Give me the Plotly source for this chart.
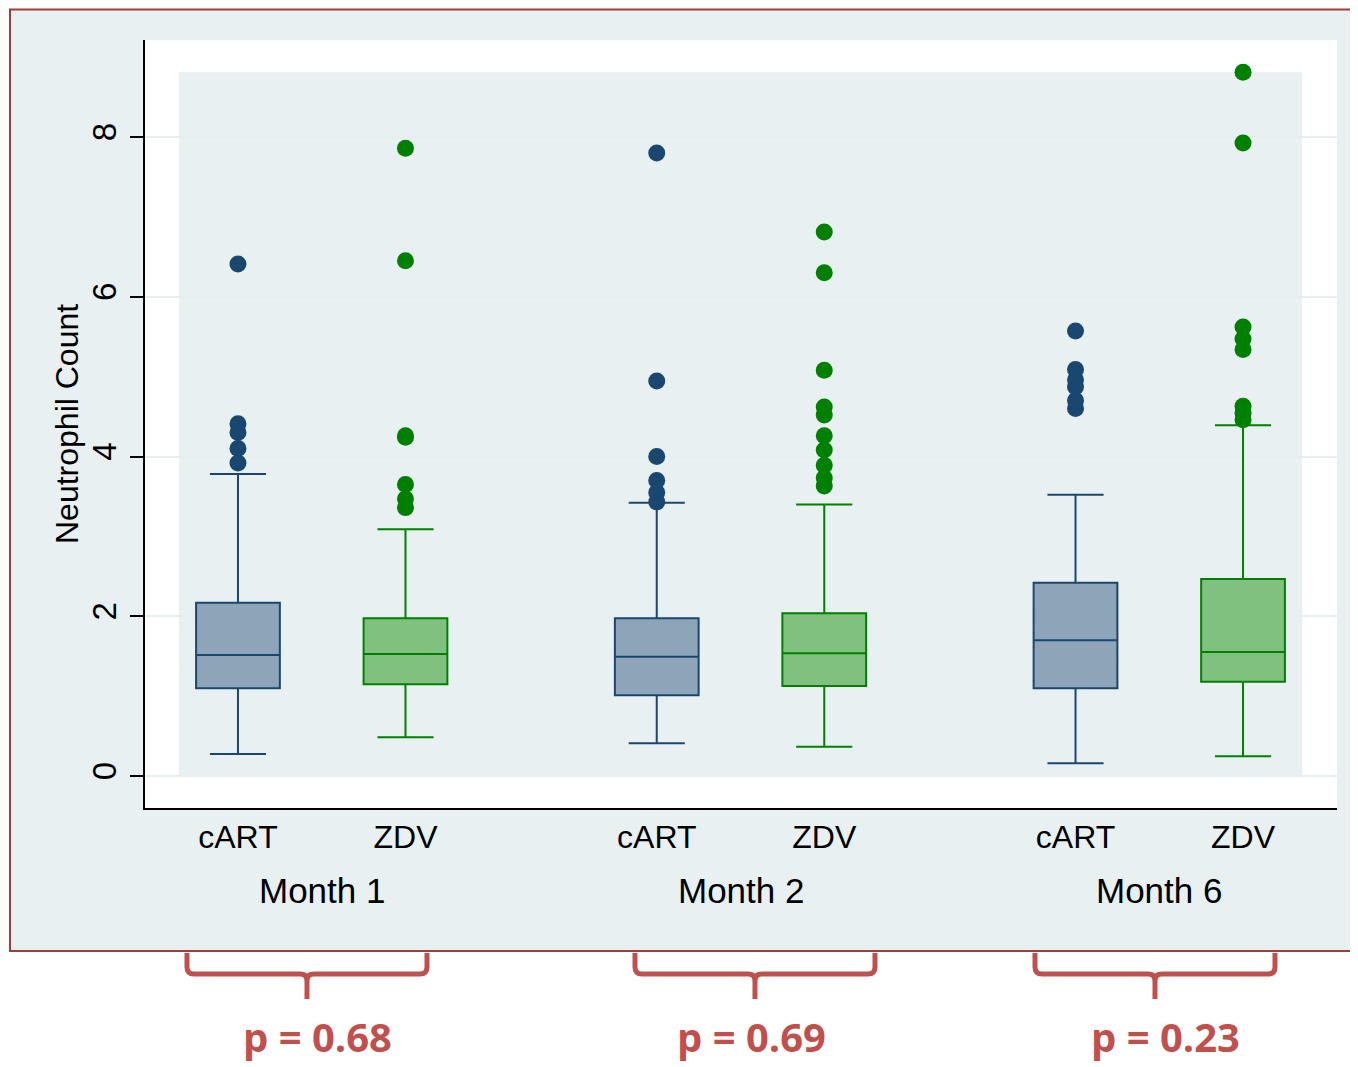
import plotly.graph_objects as go

# ---------------- data ----------------
groups = ["Month 1", "Month 2", "Month 6"]
treatments = ["cART", "ZDV"]
p_values = ["p = 0.68", "p = 0.69", "p = 0.23"]

cart_q1 = [1.10, 1.01, 1.10]
cart_median = [1.515, 1.494, 1.70]
cart_q3 = [2.17, 1.975, 2.42]
cart_low = [0.275, 0.41, 0.16]
cart_high = [3.78, 3.42, 3.52]

zdv_q1 = [1.148, 1.127, 1.18]
zdv_median = [1.527, 1.536, 1.552]
zdv_q3 = [1.975, 2.037, 2.466]
zdv_low = [0.484, 0.367, 0.246]
zdv_high = [3.09, 3.40, 4.39]

cart_outliers = [
    [3.92, 4.10, 4.30, 4.41, 6.41],
    [3.43, 3.55, 3.70, 4.00, 4.945, 7.80],
    [4.60, 4.70, 4.87, 4.96, 5.09, 5.57],
]
zdv_outliers = [
    [3.36, 3.47, 3.65, 4.24, 4.26, 6.45, 7.86],
    [3.63, 3.73, 3.89, 4.08, 4.26, 4.52, 4.62, 5.08, 6.30, 6.81],
    [4.46, 4.54, 4.63, 5.34, 5.47, 5.62, 7.925, 8.81],
]

# ---------------- layout constants ----------------
OFF = 8  # page body margin
W, H = 1358 - OFF, 1067 - OFF
ML, MT = 145 - OFF, 40 - OFF
MR = W - (1337 - OFF)
MB = H - (808 - OFF)
PW, PH = W - ML - MR, H - MT - MB
GROUP_STEP = 2.5
FONT = "Liberation Sans, Arial, sans-serif"

NAVY = "#1a476f"
NAVY_FILL = "#8ea4b9"
GREEN = "#008000"
GREEN_FILL = "#80c180"
FRAME_BG = "#e8f0f2"
FRAME_LINE = "#a33b3b"
RED = "#c0504d"


def pxx(px):
    return (px - OFF - ML) / PW


def pxy(py):
    return (H - MB - (py - OFF)) / PH


group_pos = [g * GROUP_STEP for g in range(len(groups))]
cart_x = [p + 0 for p in group_pos]
zdv_x = [p + 1 for p in group_pos]

fig = go.Figure()

for xs, q1, med, q3, lo, hi, line_c, fill_c, name in [
    (cart_x, cart_q1, cart_median, cart_q3, cart_low, cart_high, NAVY, NAVY_FILL, "cART"),
    (zdv_x, zdv_q1, zdv_median, zdv_q3, zdv_low, zdv_high, GREEN, GREEN_FILL, "ZDV"),
]:
    fig.add_trace(go.Box(
        x=xs, q1=q1, median=med, q3=q3, lowerfence=lo, upperfence=hi,
        width=0.5, whiskerwidth=0.67, boxpoints=False,
        line=dict(color=line_c, width=2), fillcolor=fill_c,
        name=name, showlegend=False, hoverinfo="skip",
    ))

for xs, outs, col in [(cart_x, cart_outliers, NAVY), (zdv_x, zdv_outliers, GREEN)]:
    ox, oy = [], []
    for x, vals in zip(xs, outs):
        ox += [x] * len(vals)
        oy += vals
    fig.add_trace(go.Scatter(
        x=ox, y=oy, mode="markers",
        marker=dict(color=col, size=17, line=dict(width=0)),
        showlegend=False, hoverinfo="skip",
    ))

shapes = []
# outer frame
shapes.append(dict(type="rect", xref="paper", yref="paper",
                   x0=pxx(10), x1=pxx(1358 + 20), y0=pxy(951), y1=pxy(9.5),
                   fillcolor=FRAME_BG, line=dict(color=FRAME_LINE, width=2), layer="below"))
# white plot region
shapes.append(dict(type="rect", xref="paper", yref="paper",
                   x0=0, x1=1, y0=0, y1=1,
                   fillcolor="white", line=dict(width=0), layer="below"))
# inner plot region
all_max = max(max(v) for v in cart_outliers + zdv_outliers)
shapes.append(dict(type="rect", xref="x", yref="y",
                   x0=-0.352, x1=zdv_x[-1] + 0.352, y0=0, y1=all_max,
                   fillcolor=FRAME_BG, line=dict(width=0), layer="below"))

# braces + p labels
brace_centers = [307, 755, 1155]
half = 120
yt, yh, yb = 953, 974, 999
r = 7
annotations = []
for c in brace_centers:
    l, rr = c - half, c + half
    pts = lambda px, py: f"{pxx(px):.6f},{pxy(py):.6f}"
    path = (f"M {pts(l, yt)} L {pts(l, yh - r)} Q {pts(l, yh)} {pts(l + r, yh)} "
            f"L {pts(c - r, yh)} Q {pts(c, yh)} {pts(c, yh + r)} L {pts(c, yb)} "
            f"M {pts(c, yh + r)} Q {pts(c, yh)} {pts(c + r, yh)} "
            f"L {pts(rr - r, yh)} Q {pts(rr, yh)} {pts(rr, yh - r)} L {pts(rr, yt)}")
    shapes.append(dict(type="path", xref="paper", yref="paper", path=path,
                       line=dict(color=RED, width=5), layer="above"))
p_x = [317, 751, 1165]
for px, ptxt in zip(p_x, p_values):
    annotations.append(dict(text=ptxt, xref="paper", yref="paper",
                            x=pxx(px), y=pxy(1036), xanchor="center", yanchor="middle",
                            showarrow=False, borderpad=0,
                            font=dict(family="Open Sans, sans-serif", size=40, color=RED, weight="bold")))

# month labels
for g, gp in zip(groups, group_pos):
    annotations.append(dict(text=g, xref="x", yref="paper", x=gp + 0.5, y=pxy(890),
                            xanchor="center", yanchor="middle", showarrow=False,
                            font=dict(family=FONT, size=35, color="black")))
# y title
annotations.append(dict(text="Neutrophil Count", xref="paper", yref="paper",
                        x=pxx(67), y=0.5, xanchor="center", yanchor="middle",
                        textangle=-90, showarrow=False,
                        font=dict(family=FONT, size=32, color="black")))

fig.update_layout(
    width=W, height=H,
    margin=dict(l=ML, r=MR, t=MT, b=MB, pad=0),
    paper_bgcolor="white", plot_bgcolor="white",
    shapes=shapes, annotations=annotations,
    showlegend=False, boxmode="overlay",
)
fig.update_xaxes(
    range=[-0.555, 6.561], tickvals=cart_x + zdv_x, ticktext=[treatments[0]] * 3 + [treatments[1]] * 3,
    showline=True, linecolor="black", linewidth=2, ticks="", showgrid=False, zeroline=False,
    tickfont=dict(family=FONT, size=32, color="black"), ticklabelstandoff=0,
)
fig.update_yaxes(
    range=[-0.4006, 9.2144], tickvals=[0, 2, 4, 6, 8],
    showline=True, linecolor="black", linewidth=2, ticks="outside", ticklen=13, tickwidth=2,
    tickcolor="black", tickangle=-90, showgrid=True, gridcolor="#e6eef0", gridwidth=2,
    zeroline=False, tickfont=dict(family=FONT, size=33, color="black"), ticklabelstandoff=1,
)

fig.write_html("out.html")
